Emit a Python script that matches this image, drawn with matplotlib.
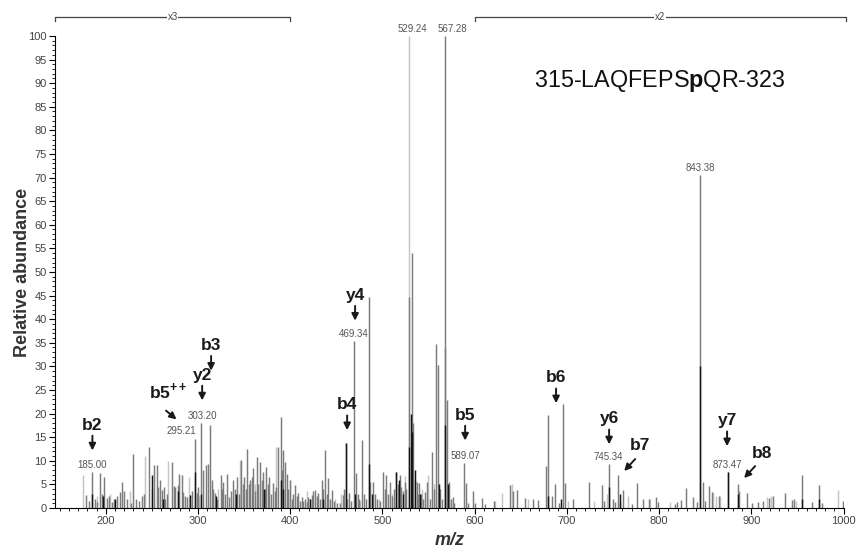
import matplotlib
matplotlib.use('Agg')
import matplotlib.pyplot as plt

plt.rcParams['font.family'] = ['Liberation Sans', 'DejaVu Sans']
plt.rcParams['mathtext.fontset'] = 'custom'
plt.rcParams['mathtext.rm'] = 'Liberation Sans:bold'
plt.rcParams['mathtext.bf'] = 'Liberation Sans:bold'

# main peaks (mid grey)
grey_peaks = [
    (178.8, 2.7), (182, 1.5), (185.6, 7.6), (188, 2.0), (190, 1.2), (193.9, 7.4), (196, 3.0),
    (198.2, 6.6), (201, 2.2), (203, 2.5), (207, 1.2), (209, 2.0), (212, 2.5), (215, 3.3),
    (217.5, 5.4), (220, 3.5), (223, 1.8), (227, 1.0), (229.7, 11.4), (233, 2.0), (236, 1.5),
    (239, 2.5), (241, 3.0), (247.4, 12.9), (250.5, 4.0), (252.5, 9.0), (255.3, 9.1), (257.1, 4.5),
    (259, 6.0), (260.7, 3.8), (262.6, 4.5), (264.4, 2.0), (266, 3.0), (271.6, 9.8), (273.5, 4.6),
    (275.2, 4.5), (278.8, 4.8), (279.5, 7.2), (282.4, 7.0), (284.2, 3.4), (286, 2.5), (287.8, 2.4),
    (291.5, 2.7), (293, 3.5), (296.2, 14.7), (298.7, 3.1), (300.5, 4.5), (303.2, 17.9), (305.9, 8.0),
    (308.8, 9.1), (311.3, 9.4), (313.1, 17.5), (314.9, 5.9), (316.7, 4.0), (318.6, 3.1), (321, 2.0),
    (324.7, 7.0), (326.5, 4.0), (327.6, 5.6), (329.5, 3.0), (331.2, 7.3), (334.1, 2.4), (336, 3.5),
    (338.4, 5.9), (340.5, 4.0), (342.8, 6.6), (344.5, 3.0), (346.4, 10.1), (348.5, 5.0), (350, 6.6),
    (352, 4.0), (353.6, 12.6), (355, 5.0), (356.5, 5.9), (358.5, 6.5), (360.1, 8.4), (362, 3.5),
    (363.7, 10.8), (365.5, 5.0), (367.3, 9.8), (369, 6.0), (370.9, 7.7), (372.5, 4.0), (373.8, 8.7),
    (375.5, 5.0), (377.5, 6.6), (379, 3.0), (381.1, 5.2), (383, 3.5), (384.7, 4.5), (387.2, 13.0),
    (389.7, 19.3), (391, 8.0), (392.6, 12.3), (394.4, 9.8), (396.2, 7.3), (398, 4.0), (399.9, 5.9),
    (402, 2.0), (403.5, 3.0), (405.3, 4.9), (407, 2.5), (408.9, 3.1), (410.5, 1.5), (412.5, 2.4),
    (414, 1.5), (416.1, 2.0), (418, 1.2), (419.7, 2.4), (421.5, 2.0), (423.3, 2.7), (425, 3.5),
    (427, 3.8), (428.5, 2.5), (430.6, 3.1), (432.5, 2.0), (434.2, 5.9), (436, 4.0), (437.8, 12.3),
    (439.5, 3.0), (441.4, 6.3), (443, 2.0), (445, 3.8), (447, 1.5), (450.4, 1.0), (454, 1.0),
    (456.9, 2.7), (458.5, 4.0), (460.2, 13.7), (462, 2.0), (463.8, 3.1), (466, 1.5), (469.3, 35.3),
    (471, 7.5), (473, 3.0), (475, 2.0), (478.3, 14.4), (480.5, 3.0), (482, 2.0), (485.2, 44.8),
    (487, 5.5), (489.8, 5.6), (492, 3.0), (494, 2.0), (497, 1.5), (500.7, 7.7), (502.5, 4.0),
    (504, 7.0), (506, 3.0), (507.8, 5.4), (510, 2.5), (512.5, 4.0), (515, 7.7), (516.5, 5.0),
    (518.6, 6.9), (520.5, 4.5), (522.5, 3.5), (524, 5.4), (526, 4.0), (529.2, 44.8), (531.7, 54.0),
    (533, 18.0), (535, 6.0), (537, 5.6), (538.5, 3.0), (540, 5.2), (542, 3.0), (544, 2.0),
    (546, 3.4), (548.6, 5.6), (551, 2.0), (554.1, 11.9), (556, 4.0), (558.4, 34.8), (560.6, 30.2),
    (562.5, 4.0), (564, 2.0), (567.3, 100), (568, 33.8), (569.6, 22.8), (572.6, 5.6), (574.5, 2.0),
    (576.2, 2.4), (578, 1.0), (588.8, 9.5), (590.6, 5.3), (593, 1.0), (597.8, 3.7), (600, 1.0),
    (608.3, 2.2), (611, 0.8), (621, 1.5), (638.3, 4.9), (642, 3.5), (646.3, 3.8), (654.6, 2.1),
    (663, 1.8), (669, 1.6), (677.4, 8.9), (679.2, 19.7), (684, 2.5), (687.5, 5.0), (691, 1.0),
    (696.2, 22.0), (698, 5.3), (707, 1.8), (723.6, 5.6), (738.4, 4.9), (740.2, 1.5), (746, 9.3),
    (749.6, 2.0), (752, 1.2), (755, 7.0), (758, 1.5), (761.2, 3.8), (770, 0.8), (776.3, 5.2),
    (782.8, 1.8), (789, 1.8), (796.2, 2.3), (799.1, 1.2), (817, 0.8), (819, 1.3), (823.3, 1.6),
    (828.7, 4.2), (837, 2.4), (840.6, 1.2), (844.2, 70.5), (847, 5.6), (850, 1.5), (853.5, 4.7),
    (857.5, 3.4), (865, 2.5), (874.8, 7.6), (885.3, 5.1), (887, 3.5), (894.7, 3.2), (901, 1.0),
    (907.3, 1.2), (912.7, 1.5), (919.2, 2.1), (923.6, 2.5), (936.2, 3.1), (944.5, 1.6), (946, 1.8),
    (955, 7.0), (966.1, 1.3), (973, 4.9), (976, 1.0), (999.4, 1.5),
]

light_peaks = [
    (175.2, 7.0), (190.5, 2.5), (205, 3.0), (226, 3.5), (243, 11.0), (268, 10.0), (290, 6.5),
    (301, 2.5), (322, 4.0), (345.6, 10.0), (362, 5.0), (385, 13.0), (400, 6.0), (418, 3.5),
    (448, 2.0), (455, 3.0), (476, 1.5), (496, 2.0), (510, 3.0), (524, 6.8), (529.2, 100),
    (543, 4.0), (549, 7.0), (556, 5.0), (574, 2.0), (622, 1.5), (630, 3.2), (640, 5.0),
    (658, 2.0), (701, 1.5), (729, 1.5), (743, 3.0), (766, 2.5), (790, 2.0), (812, 1.2),
    (858, 3.4), (862, 2.6), (866, 2.6), (917, 2.4), (921, 2.5), (948, 1.5), (994, 3.9),
]

black_peaks = [
    (185.6, 3.0), (197, 2.5), (210, 2.0), (249.9, 7.0), (262, 2.0), (278.8, 3.5), (291.5, 2.7),
    (296.2, 7.7), (303.2, 3.0), (320, 2.5), (341, 3.0), (372, 4.0), (389.7, 6.0), (392.6, 4.0),
    (421, 2.0), (435, 2.0), (460.2, 13.7), (470, 3.0), (485.2, 9.4), (489, 3.0), (515, 7.7),
    (517.5, 6.0), (522, 3.0), (528.5, 13.0), (530.5, 20.0), (532.5, 16.0), (535.5, 8.0),
    (541, 3.0), (561, 5.0), (567.8, 17.5), (570.5, 5.0), (679.2, 2.5), (693, 2.0), (746, 4.5),
    (757, 3.0), (844.2, 30.0), (874.8, 7.6), (885.3, 3.0), (955, 2.0), (973, 2.0),
]

# labelled peak values: (text, m/z, height, horizontal alignment)
peak_labels = [
    ('185.00', 185.6, 7.6, 'center'), ('295.21', 297.5, 14.7, 'right'),
    ('303.20', 304.5, 17.9, 'center'), ('469.34', 469.3, 35.3, 'center'),
    ('529.24', 532.0, 100, 'center'), ('567.28', 576.0, 100, 'center'),
    ('589.07', 589.5, 9.5, 'center'), ('745.34', 745.0, 9.3, 'center'),
    ('843.38', 844.2, 70.5, 'center'), ('873.47', 874.0, 7.6, 'center'),
]

# fragment ions with vertical arrows
ion_names = ['b2', 'y2', 'b3', 'b4', 'y4', 'b5', 'b6', 'y6', 'y7']
ion_mz = [185.5, 304.5, 314.2, 461.7, 470.3, 589.6, 688.2, 745.7, 873.6]
ion_tip = [11.6, 22.2, 28.5, 15.9, 39.1, 13.7, 21.6, 12.9, 12.5]

# fragment ions with slanted arrows: (name, text x, text y, tail, tip)
slant_ions = [
    ('b5$^{++}$', 268.0, 22.6, (263.0, 21.0), (279.0, 18.4)),
    ('b7', 779.3, 11.6, (776.0, 10.8), (760.0, 7.4)),
    ('b8', 911.5, 10.0, (906.0, 9.3), (890.0, 5.9)),
]

# zoom brackets above the plot
zoom_ranges = [(145, 400, 'x3'), (600, 1002, 'x2')]

fig = plt.figure(figsize=(8.56, 5.5), dpi=100)
ax = fig.add_axes([0.0643, 0.0764, 0.9213, 0.8582])

for peaks, col in [(light_peaks, '#c4c4c4'), (grey_peaks, '#7c7c7c'), (black_peaks, '#151515')]:
    xs = [p[0] for p in peaks]
    hs = [p[1] for p in peaks]
    ax.vlines(xs, 0, hs, colors=col, lw=1.05)

ax.set_xlim(145, 1000)
ax.set_ylim(0, 100)
ax.spines['top'].set_visible(False)
ax.spines['right'].set_visible(False)
ax.set_xticks(range(200, 1001, 100))
ax.set_xticks(range(150, 1001, 10), minor=True)
ax.set_yticks(range(0, 101, 5))
ax.set_yticks(range(0, 101, 1), minor=True)
ax.tick_params(which='major', length=4, width=0.8, labelsize=8, labelcolor='#444444', pad=2)
ax.tick_params(which='minor', length=2, width=0.6)

ax.set_ylabel('Relative abundance', fontsize=13, fontweight='bold', color='#333333')
ax.yaxis.set_label_coords(-0.031, 0.5)
ax.set_xlabel('m/z', fontsize=13, fontweight='bold', fontstyle='italic', color='#333333', labelpad=4)

for txt, x, h, ha in peak_labels:
    ax.text(x, h + 0.5, txt, ha=ha, va='bottom', fontsize=7, color='#555555')

for name, x, tip in zip(ion_names, ion_mz, ion_tip):
    tail = tip + 4.3
    ax.annotate('', xy=(x, tip), xytext=(x, tail),
                arrowprops=dict(arrowstyle='-|>', lw=1.4, color='#1a1a1a', mutation_scale=10))
    ax.text(x, tail + 0.7, name, ha='center', va='baseline', fontsize=12.5,
            fontweight='bold', color='#1a1a1a')

for name, tx, ty, tail, tip in slant_ions:
    ax.annotate('', xy=tip, xytext=tail,
                arrowprops=dict(arrowstyle='-|>', lw=1.4, color='#1a1a1a', mutation_scale=10))
    ax.text(tx, ty, name, ha='center', va='bottom', fontsize=12.5,
            fontweight='bold', color='#1a1a1a')

for x0, x1, lab in zoom_ranges:
    ax.plot([x0, x0, x1, x1], [103.2, 104.1, 104.1, 103.2], color='#444444', lw=0.9, clip_on=False)
    ax.text((x0 + x1) / 2, 104.1, lab, ha='center', va='center', fontsize=7, color='#444444',
            bbox=dict(facecolor='white', edgecolor='none', pad=0.5))

ax.text(801, 90.5, r'315-LAQFEPS$\mathbf{p}$QR-323', ha='center', va='center',
        fontsize=16.8, color='#111111')

fig.savefig('out.png', dpi=100)
